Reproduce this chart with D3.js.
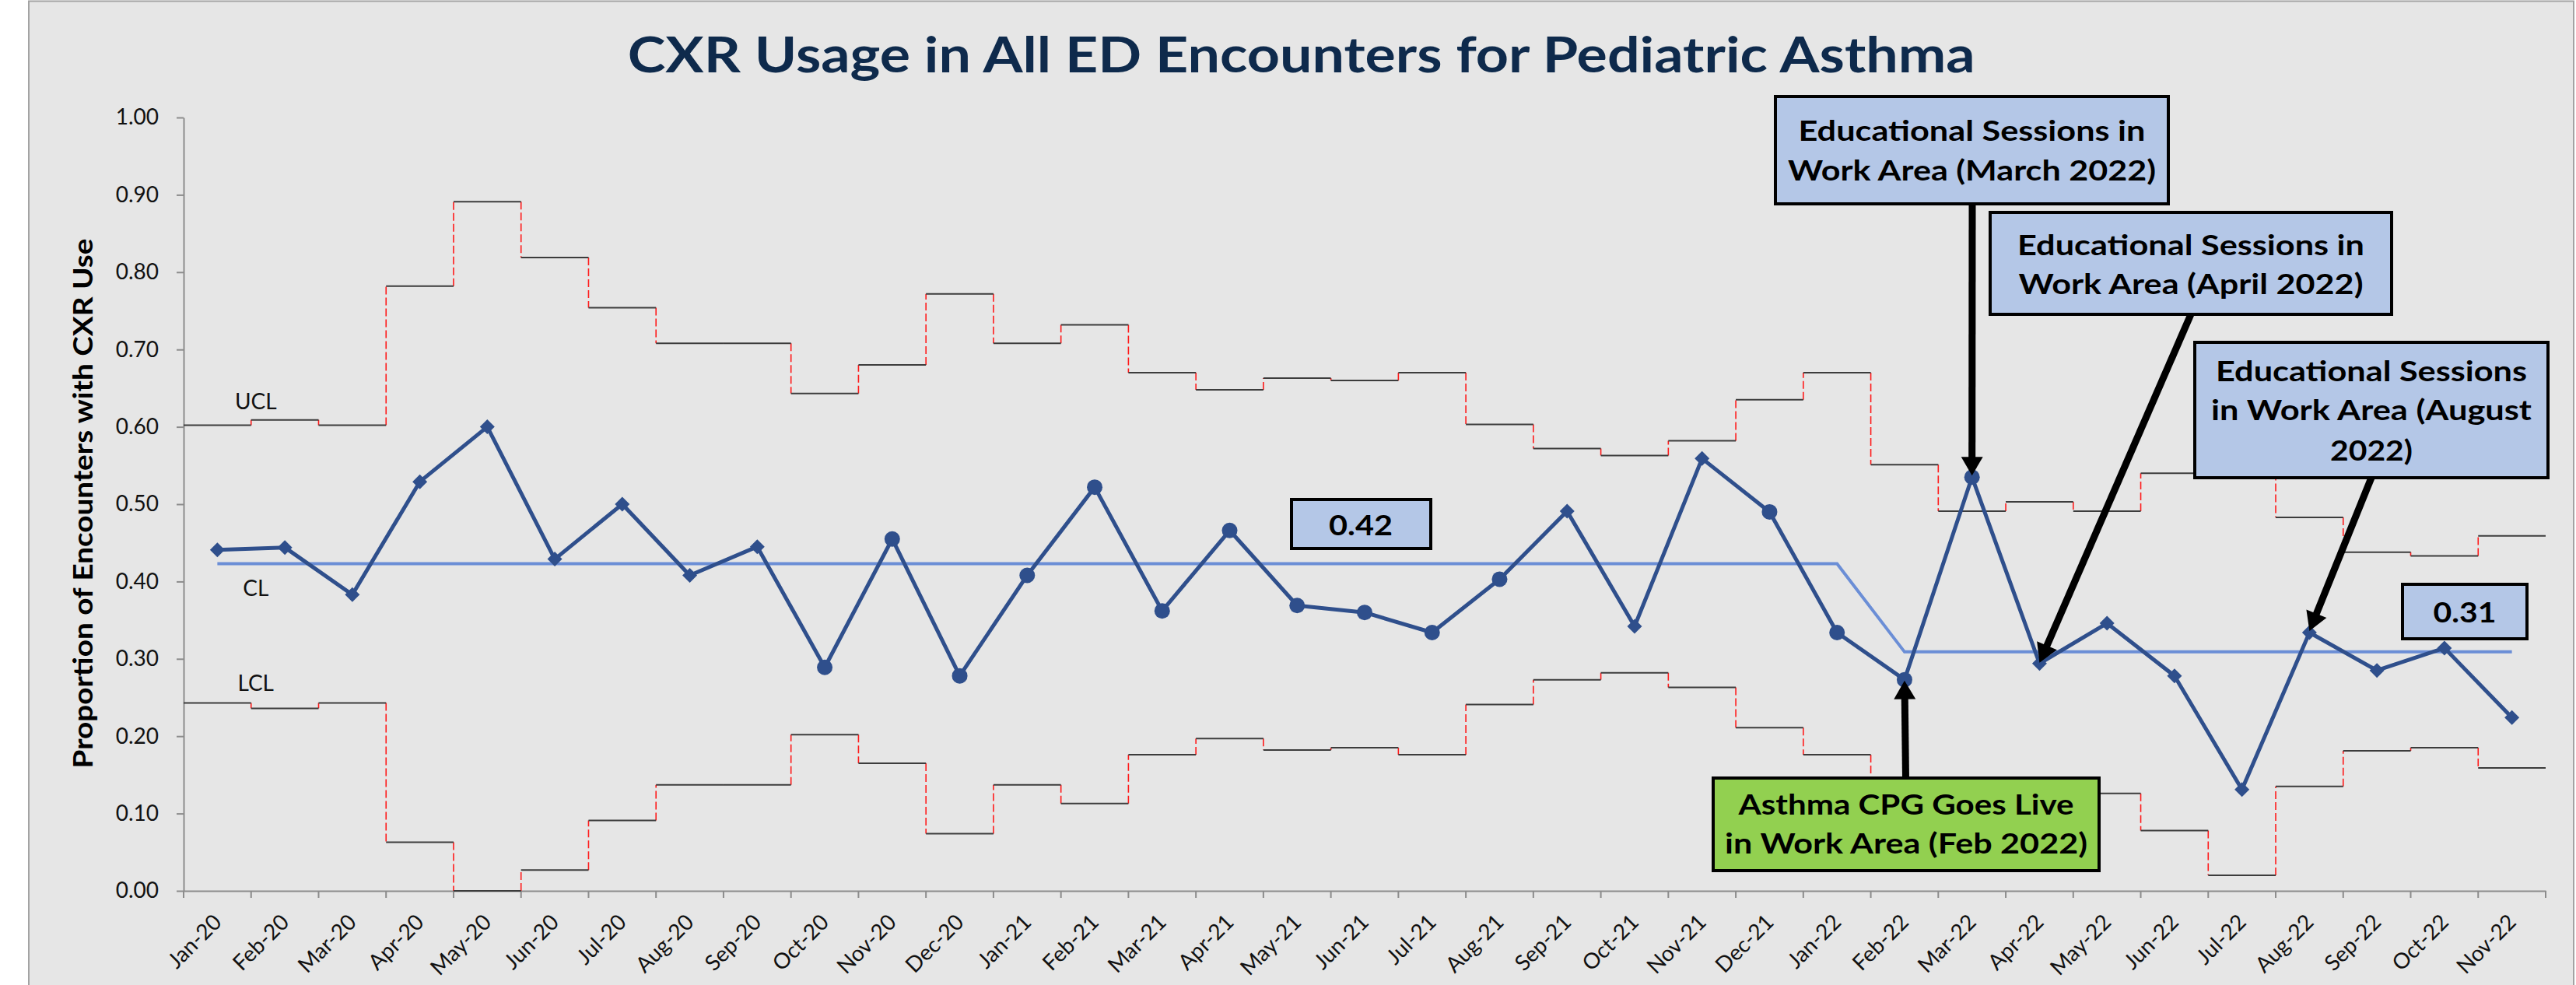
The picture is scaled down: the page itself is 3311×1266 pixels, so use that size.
<!DOCTYPE html>
<html>
<head>
<meta charset="utf-8">
<script src="https://cdn.jsdelivr.net/npm/d3@7"></script>
<style>
  html, body { margin: 0; padding: 0; background: #ffffff; }
  svg { display: block; }
</style>
</head>
<body>
<svg id="chart" width="3311" height="1266"></svg>
<script>
// ---------------- DATA ----------------
const chartTitle = "CXR Usage in All ED Encounters for Pediatric Asthma";
const yAxisTitle = "Proportion of Encounters with CXR Use";

const months = ["Jan-20","Feb-20","Mar-20","Apr-20","May-20","Jun-20","Jul-20","Aug-20","Sep-20","Oct-20","Nov-20","Dec-20",
                "Jan-21","Feb-21","Mar-21","Apr-21","May-21","Jun-21","Jul-21","Aug-21","Sep-21","Oct-21","Nov-21","Dec-21",
                "Jan-22","Feb-22","Mar-22","Apr-22","May-22","Jun-22","Jul-22","Aug-22","Sep-22","Oct-22","Nov-22"];

const proportion = [0.441,0.444,0.383,0.529,0.600,0.429,0.500,0.408,0.445,0.289,0.455,0.278,
                    0.408,0.522,0.362,0.466,0.369,0.360,0.334,0.403,0.491,0.342,0.559,0.490,
                    0.334,0.273,0.535,0.294,0.346,0.278,0.131,0.334,0.285,0.314,0.224];

const centerLine = [0.423,0.423,0.423,0.423,0.423,0.423,0.423,0.423,0.423,0.423,0.423,0.423,
                    0.423,0.423,0.423,0.423,0.423,0.423,0.423,0.423,0.423,0.423,0.423,0.423,
                    0.423,0.309,0.309,0.309,0.309,0.309,0.309,0.309,0.309,0.309,0.309];

const ucl = [0.602,0.609,0.602,0.782,0.891,0.819,0.754,0.708,0.708,0.643,0.680,0.772,
             0.708,0.732,0.670,0.648,0.663,0.660,0.670,0.603,0.572,0.563,0.582,0.635,
             0.670,0.551,0.491,0.503,0.491,0.540,0.597,0.483,0.438,0.433,0.459];

const lcl = [0.243,0.236,0.243,0.063,0.000,0.027,0.091,0.137,0.137,0.202,0.165,0.074,
             0.137,0.113,0.176,0.197,0.182,0.185,0.176,0.241,0.273,0.282,0.263,0.211,
             0.176,0.066,0.126,0.114,0.126,0.078,0.020,0.135,0.181,0.185,0.159];

// 1 = point flagged by the run rule (drawn as a circle), 0 = ordinary point (diamond)
const specialCause = [0,0,0,0,0,0,0,0,0,1,1,1,
                      1,1,1,1,1,1,1,1,0,0,0,1,
                      1,1,1,0,0,0,0,0,0,0,0];

const yTickValues = [0.00,0.10,0.20,0.30,0.40,0.50,0.60,0.70,0.80,0.90,1.00];
const limitLabels = ["UCL","CL","LCL"];
const centerLabels = ["0.42","0.31"];

const noteMarch  = ["Educational Sessions in","Work Area (March 2022)"];
const noteApril  = ["Educational Sessions in","Work Area (April 2022)"];
const noteAugust = ["Educational Sessions","in Work Area (August","2022)"];
const noteCPG    = ["Asthma CPG Goes Live","in Work Area (Feb 2022)"];
const noteTargets = ["Mar-22","Apr-22","Aug-22","Feb-22"];

// ---------------- LAYOUT ----------------
const svg = d3.select("#chart");
const plot = { left: 236, right: 3272, top: 151, bottom: 1145 };
const FONT = "Lato, 'Open Sans', sans-serif";

const x = d3.scaleBand().domain(months).range([plot.left, plot.right]).padding(0);
const bw = x.bandwidth();
const cx = m => x(m) + bw / 2;
const y = d3.scaleLinear().domain([0, 1]).range([plot.bottom, plot.top]);

// chart area background
svg.append("rect")
  .attr("x", 37).attr("y", 1.5).attr("width", 3271).attr("height", 1270)
  .attr("fill", "#e6e6e6").attr("stroke", "#a3a3a3").attr("stroke-width", 2);

// title
svg.append("text")
  .attr("x", 1672.7).attr("y", 92.7)
  .attr("text-anchor", "middle")
  .attr("font-family", FONT).attr("font-weight", 700).attr("font-size", 64)
  .attr("fill", "#0e2a4c")
  .attr("textLength", 1732).attr("lengthAdjust", "spacingAndGlyphs")
  .text(chartTitle);

// y axis title
svg.append("text")
  .attr("transform", "translate(119,647) rotate(-90)")
  .attr("text-anchor", "middle")
  .attr("font-family", FONT).attr("font-weight", 700).attr("font-size", 35)
  .attr("fill", "#000")
  .attr("textLength", 681).attr("lengthAdjust", "spacingAndGlyphs")
  .text(yAxisTitle);

// y axis
const gy = svg.append("g").attr("transform", `translate(${plot.left},0)`)
  .call(d3.axisLeft(y).tickValues(yTickValues).tickFormat(d3.format(".2f"))
        .tickSize(9).tickSizeOuter(0).tickPadding(23));
gy.select(".domain").attr("stroke", "#8c8c8c").attr("stroke-width", 2);
gy.selectAll(".tick line").attr("stroke", "#8c8c8c").attr("stroke-width", 2);
gy.selectAll(".tick text").attr("font-family", FONT).attr("font-size", 28).attr("fill", "#111");

// x axis
const gx = svg.append("g").attr("transform", `translate(0,${plot.bottom})`)
  .call(d3.axisBottom(x).tickSize(0).tickSizeOuter(0));
gx.select(".domain").attr("stroke", "#8c8c8c").attr("stroke-width", 2);
gx.selectAll(".tick text")
  .attr("x", 0).attr("y", 0).attr("dy", 0)
  .attr("text-anchor", "end")
  .attr("transform", "translate(7,42) rotate(-45)")
  .attr("font-family", FONT).attr("font-size", 28).attr("fill", "#111");
const bounds = months.map(m => x(m)).concat([x.range()[1]]);
gx.selectAll("line.bt").data(bounds).join("line").attr("class", "bt")
  .attr("x1", d => d).attr("x2", d => d).attr("y1", 0).attr("y2", 9)
  .attr("stroke", "#8c8c8c").attr("stroke-width", 2);

// control limits (step lines)
function drawLimit(vals) {
  const g = svg.append("g");
  g.selectAll("line.v").data(vals.slice(1)).join("line").attr("class", "v")
    .attr("x1", (d, i) => x(months[i + 1])).attr("x2", (d, i) => x(months[i + 1]))
    .attr("y1", (d, i) => y(vals[i])).attr("y2", d => y(d))
    .attr("stroke", "#ff1a1a").attr("stroke-width", 1.6).attr("stroke-dasharray", "10,4");
  g.selectAll("line.h").data(vals).join("line").attr("class", "h")
    .attr("x1", (d, i) => x(months[i])).attr("x2", (d, i) => x(months[i]) + bw)
    .attr("y1", d => y(d)).attr("y2", d => y(d))
    .attr("stroke", "#3c3c3c").attr("stroke-width", 2);
}
drawLimit(ucl);
drawLimit(lcl);

// center line
svg.append("path").datum(centerLine)
  .attr("d", d3.line().x((d, i) => cx(months[i])).y(d => y(d)))
  .attr("fill", "none").attr("stroke", "#6b8ed6").attr("stroke-width", 4);

// data line
const dataColor = "#2f4f8c";
svg.append("path").datum(proportion)
  .attr("d", d3.line().x((d, i) => cx(months[i])).y(d => y(d)))
  .attr("fill", "none").attr("stroke", dataColor).attr("stroke-width", 5)
  .attr("stroke-linejoin", "round");

// markers
const pts = proportion.map((v, i) => ({ m: months[i], v, flag: specialCause[i] }));
svg.append("g").selectAll("circle").data(pts.filter(p => p.flag === 1)).join("circle")
  .attr("cx", p => cx(p.m)).attr("cy", p => y(p.v)).attr("r", 10).attr("fill", dataColor);
svg.append("g").selectAll("path").data(pts.filter(p => p.flag === 0)).join("path")
  .attr("d", p => { const X = cx(p.m), Y = y(p.v), s = 9.5;
    return `M${X},${Y - s}L${X + s},${Y}L${X},${Y + s}L${X - s},${Y}Z`; })
  .attr("fill", dataColor);

// UCL / CL / LCL labels
const labelVals = [ucl[0], centerLine[0], lcl[0]];
const labelOffsets = [-21, 41, -15];
svg.append("g").selectAll("text").data(limitLabels).join("text")
  .attr("x", x(months[1]) + 6).attr("y", (d, i) => y(labelVals[i]) + labelOffsets[i])
  .attr("text-anchor", "middle").attr("font-family", FONT).attr("font-size", 28).attr("fill", "#111")
  .text(d => d);

// boxes
function box(x0, y0, x1, y1, fill, lines, baselines, lengths, cxText) {
  const g = svg.append("g");
  g.append("rect").attr("x", x0).attr("y", y0).attr("width", x1 - x0).attr("height", y1 - y0)
    .attr("fill", fill).attr("stroke", "#000").attr("stroke-width", 4);
  lines.forEach((t, i) => {
    g.append("text").attr("x", cxText).attr("y", baselines[i]).attr("text-anchor", "middle")
      .attr("font-family", FONT).attr("font-weight", 700).attr("font-size", 36).attr("fill", "#000")
      .attr("textLength", lengths[i]).attr("lengthAdjust", "spacingAndGlyphs").text(t);
  });
}
const boxBlue = "#b4c7e7", boxGreen = "#92d050";
box(1660, 642, 1839, 705, boxBlue, [centerLabels[0]], [688], [82], 1749);
box(3088, 751, 3248, 821, boxBlue, [centerLabels[1]], [799.5], [81], 3168);
box(2282, 124, 2787, 262, boxBlue, noteMarch, [181, 232], [446, 473], 2534.5);
box(2558, 273, 3074, 404, boxBlue, noteApril, [328, 378], [446, 443], 2816);
box(2821, 440, 3275, 614, boxBlue, noteAugust, [490, 540, 592], [400, 412, 106], 3048);
box(2202, 1000, 2698, 1119, boxGreen, noteCPG, [1047, 1097], [431, 466], 2450);

// arrows
function arrow(x0, y0, x1, y1) {
  const dx = x1 - x0, dy = y1 - y0, L = Math.hypot(dx, dy), ux = dx / L, uy = dy / L;
  const headL = 24, headW = 14;
  const bx = x1 - ux * headL, by = y1 - uy * headL;
  svg.append("line").attr("x1", x0).attr("y1", y0).attr("x2", bx + ux * 2).attr("y2", by + uy * 2)
    .attr("stroke", "#000").attr("stroke-width", 9);
  svg.append("path")
    .attr("d", `M${x1},${y1}L${bx - uy * headW},${by + ux * headW}L${bx + uy * headW},${by - ux * headW}Z`)
    .attr("fill", "#000");
}
const val = m => proportion[months.indexOf(m)];
arrow(2535, 262, cx(noteTargets[0]), y(val(noteTargets[0])) - 2);
arrow(2816, 404, cx(noteTargets[1]), y(val(noteTargets[1])) - 1);
arrow(3048, 614, cx(noteTargets[2]), y(val(noteTargets[2])) - 2);
arrow(2449.5, 1000, cx(noteTargets[3]), y(val(noteTargets[3])) + 1);
</script>
</body>
</html>
